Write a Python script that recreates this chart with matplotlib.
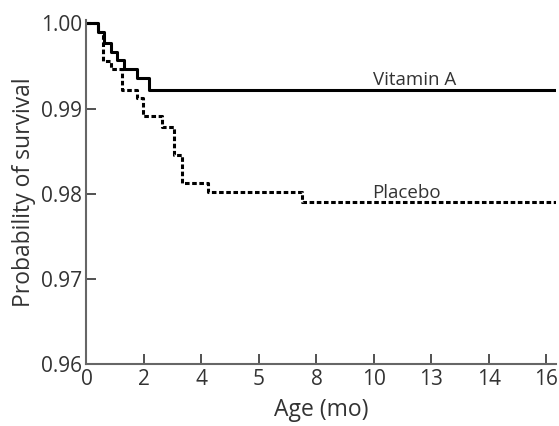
import matplotlib
matplotlib.use("Agg")
import matplotlib.pyplot as plt
import numpy as np

plt.rcParams['font.family'] = ['Open Sans', 'DejaVu Sans']

# x axis is not linear: equally spaced ticks with these labels
tick_months = [0, 2, 4, 5, 8, 10, 13, 14, 16]

# Kaplan-Meier steps (months, survival)
vit_t = [0, 0.39, 0.61, 0.84, 1.07, 1.30, 1.75, 2.16]
vit_s = [1.0, 0.9990, 0.9977, 0.9967, 0.9957, 0.9947, 0.9936, 0.9922]

pla_t = [0, 0.39, 0.58, 0.84, 1.22, 1.76, 1.98, 2.62, 3.05, 3.31, 4.11, 7.24]
pla_s = [1.0, 0.9990, 0.9956, 0.9946, 0.9922, 0.9912, 0.9892, 0.9879, 0.9846, 0.9813, 0.9802, 0.9790]

x_end = 8.16  # right end of axis, in tick positions

def to_pos(t):
    return np.interp(t, tick_months, np.arange(len(tick_months)))

fig = plt.figure(figsize=(5.59, 4.26), dpi=100)
ax = fig.add_axes([0.1547, 0.1444, 0.994 - 0.1547, 0.953 - 0.1444])

vx = np.append(to_pos(vit_t), x_end)
vy = np.append(vit_s, vit_s[-1])
ax.step(vx, vy, where='post', color='black', lw=2.2)

px = np.append(to_pos(pla_t), x_end)
py = np.append(pla_s, pla_s[-1])
ax.step(px, py, where='post', color='black', lw=2.2, linestyle=(0, (1.5, 0.85)))

ax.text(5.71, 0.99278, 'Vitamin A', ha='center', va='baseline', fontsize=13.5, color='#333333')
ax.text(5.56, 0.97953, 'Placebo', ha='center', va='baseline', fontsize=13.5, color='#333333')

ax.set_xlim(0, x_end)
ax.set_ylim(0.96, 1.0004)
ax.set_xticks(np.arange(len(tick_months)))
ax.set_xticklabels([str(m) for m in tick_months])
ax.set_yticks([0.96, 0.97, 0.98, 0.99, 1.00])
ax.set_yticklabels(['0.96', '0.97', '0.98', '0.99', '1.00'])

for s in ['top', 'right']:
    ax.spines[s].set_visible(False)
for s in ['left', 'bottom']:
    ax.spines[s].set_color('#666666')
    ax.spines[s].set_linewidth(1.5)
ax.tick_params(direction='in', length=7.5, width=1.2, color='#333333',
               labelsize=15, labelcolor='#333333', pad=3)

ax.set_xlabel('Age (mo)', fontsize=16.5, color='#333333', labelpad=6)
ax.set_ylabel('Probability of survival', fontsize=16.5, color='#333333', labelpad=4)

fig.savefig('out.png', dpi=100)
